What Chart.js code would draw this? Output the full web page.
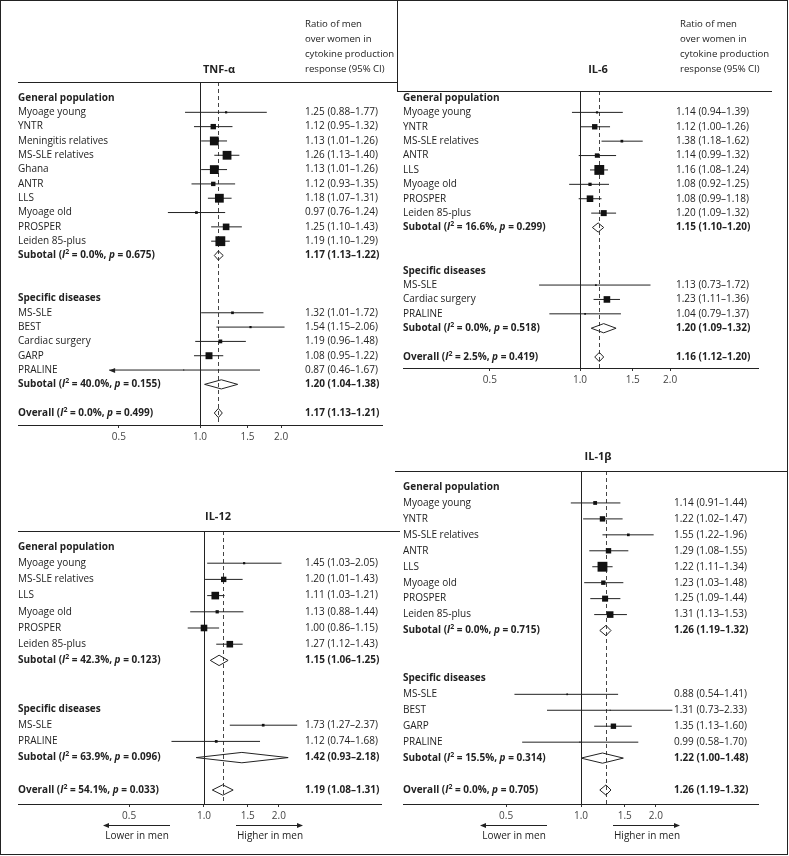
<!DOCTYPE html>
<html>
<head>
<meta charset="utf-8">
<script src="https://cdn.jsdelivr.net/npm/chart.js@4.4.1/dist/chart.umd.min.js"></script>
<style>
  body { margin: 0; background: #fff; }
  #wrap { position: relative; width: 789px; height: 856px; }
  #wrap canvas { position: absolute; left: 0; top: 0; }
  .frame { position: absolute; box-sizing: border-box; pointer-events: none; }
</style>
</head>
<body>
<div id="wrap">
  <canvas id="tnf" width="789" height="856"></canvas>
  <canvas id="il6" width="789" height="856"></canvas>
  <canvas id="il12" width="789" height="856"></canvas>
  <canvas id="il1b" width="789" height="856"></canvas>
  <div class="frame" style="left:0;top:0;width:788px;height:855px;border:1px solid #222;"></div>
  <div class="frame" style="left:397px;top:0;width:1px;height:91px;background:#222;"></div>
</div>
<script>
// ---- data ----
const headerLines = ['Ratio of men', 'over women in', 'cytokine production', 'response (95% CI)'];
const tickValues = [0.5, 1, 1.5, 2];

// TNF-alpha
const tnfLabels = ['General population', 'Myoage young', 'YNTR', 'Meningitis relatives', 'MS-SLE relatives', 'Ghana', 'ANTR', 'LLS', 'Myoage old', 'PROSPER', 'Leiden 85-plus', 'Subotal', '', '', 'Specific diseases', 'MS-SLE', 'BEST', 'Cardiac surgery', 'GARP', 'PRALINE', 'Subotal', '', 'Overall'];
const tnfRatio = [null, 1.25, 1.12, 1.13, 1.26, 1.13, 1.12, 1.18, 0.97, 1.25, 1.19, 1.17, null, null, null, 1.32, 1.54, 1.19, 1.08, 0.87, 1.20, null, 1.17];
const tnfLow = [null, 0.88, 0.95, 1.01, 1.13, 1.01, 0.93, 1.07, 0.76, 1.10, 1.10, 1.13, null, null, null, 1.01, 1.15, 0.96, 0.95, 0.46, 1.04, null, 1.13];
const tnfHigh = [null, 1.77, 1.32, 1.26, 1.40, 1.26, 1.35, 1.31, 1.24, 1.43, 1.29, 1.22, null, null, null, 1.72, 2.06, 1.48, 1.22, 1.67, 1.38, null, 1.21];
const tnfWeight = [null, 1, 6, 16, 16, 16, 4, 16, 1.5, 9, 20, null, null, null, null, 1.5, 1, 3, 10, 0.25, null, null, null];
const tnfI2 = ['0.0', '40.0', '0.0'];
const tnfP = ['0.675', '0.155', '0.499'];

// IL-6
const il6Labels = ['General population', 'Myoage young', 'YNTR', 'MS-SLE relatives', 'ANTR', 'LLS', 'Myoage old', 'PROSPER', 'Leiden 85-plus', 'Subotal', '', '', 'Specific diseases', 'MS-SLE', 'Cardiac surgery', 'PRALINE', 'Subotal', '', 'Overall'];
const il6Ratio = [null, 1.14, 1.12, 1.38, 1.14, 1.16, 1.08, 1.08, 1.20, 1.15, null, null, null, 1.13, 1.23, 1.04, 1.20, null, 1.16];
const il6Low = [null, 0.94, 1.00, 1.18, 0.99, 1.08, 0.92, 0.99, 1.09, 1.10, null, null, null, 0.73, 1.11, 0.79, 1.09, null, 1.12];
const il6High = [null, 1.39, 1.26, 1.62, 1.32, 1.24, 1.25, 1.18, 1.32, 1.20, null, null, null, 1.72, 1.36, 1.37, 1.32, null, 1.20];
const il6Weight = [null, 1, 6, 1.5, 4, 20, 2.2, 9, 7.5, null, null, null, null, 0.6, 9, 0.6, null, null, null];
const il6I2 = ['16.6', '0.0', '2.5'];
const il6P = ['0.299', '0.518', '0.419'];

// IL-12
const il12Labels = ['General population', 'Myoage young', 'MS-SLE relatives', 'LLS', 'Myoage old', 'PROSPER', 'Leiden 85-plus', 'Subotal', '', '', 'Specific diseases', 'MS-SLE', 'PRALINE', 'Subotal', '', 'Overall'];
const il12Ratio = [null, 1.45, 1.20, 1.11, 1.13, 1.00, 1.27, 1.15, null, null, null, 1.73, 1.12, 1.42, null, 1.19];
const il12Low = [null, 1.03, 1.01, 1.03, 0.88, 0.86, 1.12, 1.06, null, null, null, 1.27, 0.74, 0.93, null, 1.08];
const il12High = [null, 2.05, 1.43, 1.21, 1.44, 1.15, 1.43, 1.25, null, null, null, 2.37, 1.68, 2.18, null, 1.31];
const il12Weight = [null, 1, 6, 12, 2.2, 9, 9, null, null, null, null, 1.5, 1.5, null, null, null];
const il12I2 = ['42.3', '63.9', '54.1'];
const il12P = ['0.123', '0.096', '0.033'];

// IL-1beta
const il1bLabels = ['General population', 'Myoage young', 'YNTR', 'MS-SLE relatives', 'ANTR', 'LLS', 'Myoage old', 'PROSPER', 'Leiden 85-plus', 'Subotal', '', '', 'Specific diseases', 'MS-SLE', 'BEST', 'GARP', 'PRALINE', 'Subotal', '', 'Overall'];
const il1bRatio = [null, 1.14, 1.22, 1.55, 1.29, 1.22, 1.23, 1.25, 1.31, 1.26, null, null, null, 0.88, 1.31, 1.35, 0.99, 1.22, null, 1.26];
const il1bLow = [null, 0.91, 1.02, 1.22, 1.08, 1.11, 1.03, 1.09, 1.13, 1.19, null, null, null, 0.54, 0.73, 1.13, 0.58, 1.00, null, 1.19];
const il1bHigh = [null, 1.44, 1.47, 1.96, 1.55, 1.34, 1.48, 1.44, 1.53, 1.32, null, null, null, 1.41, 2.33, 1.60, 1.70, 1.48, null, 1.32];
const il1bWeight = [null, 3, 6, 1.5, 6, 20, 4, 7.5, 9, null, null, null, null, 0.6, 0.25, 6, 0.25, null, null, null];
const il1bI2 = ['0.0', '15.5', '0.0'];
const il1bP = ['0.715', '0.314', '0.705'];

// ---- layout ----
const FONT = '"Open Sans", sans-serif';
const FS = 10;
const W = 789, H = 856, AXIS_H = 30;
const INK = '#222';

function fmt(r, lo, hi) {
  return r.toFixed(2) + ' (' + lo.toFixed(2) + '\u2013' + hi.toFixed(2) + ')';
}

function drawRich(ctx, x, y, parts) {
  parts.forEach(([t, st]) => {
    let sz = FS, dy = 0;
    if (st === 's') { sz = FS * 0.7; dy = -FS * 0.35; }
    ctx.font = (st === 'i' ? 'italic ' : '') + 'bold ' + sz + 'px ' + FONT;
    ctx.fillText(t, x, y + dy);
    x += ctx.measureText(t).width;
  });
}

function arrowHead(ctx, x, y, dir) {
  ctx.beginPath();
  ctx.moveTo(x, y);
  ctx.lineTo(x - dir * 6, y - 2.5);
  ctx.lineTo(x - dir * 6, y + 2.5);
  ctx.closePath();
  ctx.fill();
}

function makePanel(id, labels, ratio, low, high, weight, i2, p, lay) {
  const n = labels.length - 1;
  const step = (lay.last - lay.first) / n;
  const yMin = -(lay.first - lay.T) / step;
  const yMax = n + (lay.B - lay.last) / step;
  const xMin = Math.exp(-(lay.one - lay.L) / lay.ppl);
  const xMax = Math.exp((lay.R - lay.one) / lay.ppl);
  const overall = ratio[n];

  const datasets = [];
  const squares = [];
  labels.forEach((lab, i) => {
    if (ratio[i] == null) return;
    if (weight[i] != null) {
      datasets.push({
        type: 'line', data: [{x: low[i], y: i}, {x: high[i], y: i}],
        borderColor: '#222', borderWidth: 1, pointRadius: 0, order: 2
      });
      squares.push({x: ratio[i], y: i, w: weight[i]});
    } else {
      const h = 0.32;
      datasets.push({
        type: 'line',
        data: [{x: low[i], y: i}, {x: ratio[i], y: i - h}, {x: high[i], y: i}, {x: ratio[i], y: i + h}, {x: low[i], y: i}],
        borderColor: INK, borderWidth: 1, pointRadius: 0, fill: false, tension: 0, order: 1
      });
    }
  });
  datasets.push({
    type: 'scatter', data: squares, pointStyle: 'rect',
    pointRadius: c => Math.sqrt(c.raw.w) * 2.2 / Math.SQRT2,
    backgroundColor: '#111', borderWidth: 0, order: 0
  });

  const forestPlugin = {
    id: 'forest_' + id,
    beforeDatasetsDraw(chart) {
      const {ctx, chartArea: a} = chart;
      const xs = chart.scales.x;
      ctx.save();
      ctx.strokeStyle = INK;
      ctx.lineWidth = 1;
      let x1 = Math.round(xs.getPixelForValue(1)) + 0.5;
      ctx.beginPath(); ctx.moveTo(x1, a.top); ctx.lineTo(x1, a.bottom); ctx.stroke();
      let xo = Math.round(xs.getPixelForValue(overall)) + 0.5;
      ctx.strokeStyle = '#444';
      ctx.setLineDash([4, 3]);
      ctx.beginPath(); ctx.moveTo(xo, a.top); ctx.lineTo(xo, a.bottom); ctx.stroke();
      ctx.restore();
    },
    afterDraw(chart) {
      const {ctx, chartArea: a} = chart;
      const xs = chart.scales.x, ys = chart.scales.y;
      ctx.save();
      ctx.fillStyle = INK;
      ctx.strokeStyle = INK;
      ctx.lineWidth = 1;
      // header rule
      ctx.beginPath(); ctx.moveTo(lay.hdrL, a.top + 0.5); ctx.lineTo(lay.hdrR, a.top + 0.5); ctx.stroke();
      // title
      ctx.textBaseline = 'middle';
      ctx.textAlign = 'center';
      ctx.font = 'bold 11px ' + FONT;
      ctx.fillText(lay.title, lay.titleX, lay.titleY);
      ctx.textAlign = 'left';
      if (lay.header) {
        ctx.font = '9.6px ' + FONT;
        headerLines.forEach((t, k) => ctx.fillText(t, lay.hdrX, 24 + k * 15));
      }
      // rows
      let pool = 0;
      labels.forEach((lab, i) => {
        const y = ys.getPixelForValue(i);
        if (!lab) return;
        if (ratio[i] == null) {
          ctx.font = 'bold ' + FS + 'px ' + FONT;
          ctx.fillText(lab, lay.L, y);
        } else if (weight[i] == null) {
          drawRich(ctx, lay.L, y, [[lab + ' (', ''], ['I', 'i'], ['2', 's'], [' = ' + i2[pool] + '%, ', ''], ['p', 'i'], [' = ' + p[pool] + ')', '']]);
          ctx.font = 'bold ' + FS + 'px ' + FONT;
          ctx.fillText(fmt(ratio[i], low[i], high[i]), lay.valX, y);
          pool++;
        } else {
          ctx.font = FS + 'px ' + FONT;
          ctx.fillText(lab, lay.L, y);
          ctx.fillText(fmt(ratio[i], low[i], high[i]), lay.valX, y);
          if (low[i] < 0.5) arrowHead(ctx, xs.getPixelForValue(low[i]), Math.round(y) + 0.5, -1);
        }
      });
      // direction arrows
      if (lay.arrows) {
        const x1 = xs.getPixelForValue(1);
        const ya = lay.arrowY + 0.5;
        ctx.beginPath();
        ctx.moveTo(x1 - 34, ya); ctx.lineTo(x1 - 98, ya);
        ctx.moveTo(x1 + 32, ya); ctx.lineTo(x1 + 96, ya);
        ctx.stroke();
        arrowHead(ctx, x1 - 101, ya, -1);
        arrowHead(ctx, x1 + 99, ya, 1);
        ctx.font = FS + 'px ' + FONT;
        ctx.textAlign = 'center';
        ctx.fillText('Lower in men', x1 - 67, lay.arrowY + 11);
        ctx.fillText('Higher in men', x1 + 66, lay.arrowY + 11);
      }
      ctx.restore();
    }
  };

  return new Chart(document.getElementById(id), {
    type: 'scatter',
    data: {datasets},
    options: {
      responsive: false,
      animation: false,
      events: [],
      layout: {padding: {left: lay.L, right: W - lay.R, top: lay.T, bottom: H - lay.B - AXIS_H}},
      plugins: {legend: {display: false}, tooltip: {enabled: false}},
      scales: {
        x: {
          type: 'logarithmic', min: xMin, max: xMax,
          afterBuildTicks: s => { s.ticks = tickValues.map(v => ({value: v})); },
          afterFit: s => { s.height = AXIS_H; },
          ticks: {callback: v => Number(v).toFixed(1), autoSkip: false, maxRotation: 0, padding: 3,
                  font: {family: FONT, size: FS}, color: '#444'},
          grid: {drawOnChartArea: false, drawTicks: true, tickLength: 3, color: '#333'},
          border: {display: true, color: INK, width: 1}
        },
        y: {type: 'linear', display: false, reverse: true, min: yMin, max: yMax}
      }
    },
    plugins: [forestPlugin]
  });
}

makePanel('tnf', tnfLabels, tnfRatio, tnfLow, tnfHigh, tnfWeight, tnfI2, tnfP,
  {L: 18, R: 382, T: 82, B: 425, first: 98, last: 413, one: 200, ppl: 117, valX: 305,
   title: 'TNF-\u03b1', titleX: 219, titleY: 70, header: true, hdrX: 305, hdrL: 18, hdrR: 397, arrows: false});
makePanel('il6', il6Labels, il6Ratio, il6Low, il6High, il6Weight, il6I2, il6P,
  {L: 403, R: 758, T: 91, B: 368, first: 98, last: 357, one: 580, ppl: 130, valX: 676,
   title: 'IL-6', titleX: 598, titleY: 70, header: true, hdrX: 680, hdrL: 397, hdrR: 772, arrows: false});
makePanel('il12', il12Labels, il12Ratio, il12Low, il12High, il12Weight, il12I2, il12P,
  {L: 18, R: 381, T: 531, B: 804, first: 547, last: 790, one: 204, ppl: 108, valX: 305,
   title: 'IL-12', titleX: 218, titleY: 517, header: false, hdrL: 18, hdrR: 400, arrows: true, arrowY: 825});
makePanel('il1b', il1bLabels, il1bRatio, il1bLow, il1bHigh, il1bWeight, il1bI2, il1bP,
  {L: 403, R: 758, T: 471, B: 804, first: 487, last: 790, one: 581, ppl: 108, valX: 674,
   title: 'IL-1\u03b2', titleX: 598, titleY: 457, header: false, hdrL: 395, hdrR: 788, arrows: true, arrowY: 825});
</script>
</body>
</html>
